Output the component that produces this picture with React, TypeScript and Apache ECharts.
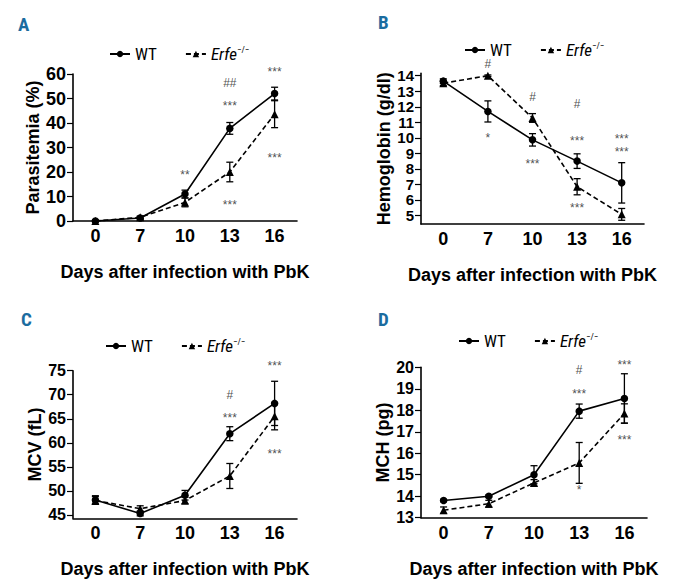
import React, { useEffect, useRef } from "react";
import * as echarts from "echarts";

const days = ["0", "7", "10", "13", "16"];

// Panel A: Parasitemia (%)
const paraWT = [0, 1.2, 11, 37.8, 52];
const paraWTsd = [0.3, 0.5, 1.6, 2.4, 2.6];
const paraKO = [0, 1.5, 7.6, 20, 43.6];
const paraKOsd = [0.3, 0.5, 1.8, 4, 5.5];
const annotA: [string, number, string][] = [
  ["10", 20, "**"], ["13", 56.5, "##"], ["13", 48, "***"], ["13", 7.6, "***"],
  ["16", 62, "***"], ["16", 27, "***"],
];

// Panel B: Hemoglobin (g/dl)
const hbWT = [13.65, 11.7, 9.87, 8.5, 7.1];
const hbWTsd = [0.15, 0.68, 0.4, 0.47, 1.3];
const hbKO = [13.52, 14.0, 11.28, 6.85, 5.07];
const hbKOsd = [0.15, 0.05, 0.28, 0.52, 0.38];
const annotB: [string, number, string][] = [
  ["7", 14.73, "#"], ["7", 10.2, "*"], ["10", 12.6, "#"], ["10", 8.5, "***"],
  ["13", 12.15, "#"], ["13", 10.0, "***"], ["13", 5.7, "***"],
  ["16", 10.1, "***"], ["16", 9.25, "***"],
];

// Panel C: MCV (fL)
const mcvWT = [48.1, 45.3, 49.1, 61.9, 68.2];
const mcvWTsd = [0.9, 0.5, 1.0, 1.45, 4.6];
const mcvKO = [48.0, 46.3, 48.0, 53.1, 65.5];
const mcvKOsd = [0.8, 0.6, 0.7, 2.6, 2.8];
const annotC: [string, number, string][] = [
  ["13", 70, "#"], ["13", 65.8, "***"], ["16", 76.5, "***"], ["16", 58.3, "***"],
];

// Panel D: MCH (pg)
const mchWT = [13.8, 14.0, 15.0, 17.96, 18.55];
const mchWTsd = [0.05, 0.05, 0.42, 0.33, 1.15];
const mchKO = [13.35, 13.65, 14.62, 15.55, 17.85];
const mchKOsd = [0.15, 0.16, 0.15, 0.95, 0.45];
const annotD: [string, number, string][] = [
  ["13", 19.87, "#"], ["13", 18.9, "***"], ["13", 14.43, "*"],
  ["16", 20.26, "***"], ["16", 16.76, "***"],
];

const ticksB = [5, 6, 7, 8, 9, 10, 11, 12, 13, 14];
const ticksC = [45, 50, 55, 60, 65, 70, 75];

const FONT = "'Liberation Sans', Arial, sans-serif";
const NARROW = "'Liberation Sans Narrow', 'Roboto Condensed', Roboto, sans-serif";

function errorSeries(gi: number, mean: number[], sd: number[]) {
  return {
    type: "custom",
    xAxisIndex: gi,
    yAxisIndex: gi,
    clip: false,
    silent: true,
    z: 3,
    encode: { x: 0, y: 1 },
    data: mean.map((m, i) => [i, m, sd[i]]),
    renderItem: (_p: any, api: any) => {
      const x = api.value(0);
      const m = api.value(1);
      const s = api.value(2);
      const t = api.coord([x, m + s]);
      const b = api.coord([x, m - s]);
      const w = 3.5;
      const st = { stroke: "#000", lineWidth: 1.3 };
      return {
        type: "group",
        children: [
          { type: "line", shape: { x1: t[0], y1: t[1], x2: b[0], y2: b[1] }, style: st },
          { type: "line", shape: { x1: t[0] - w, y1: t[1], x2: t[0] + w, y2: t[1] }, style: st },
          { type: "line", shape: { x1: b[0] - w, y1: b[1], x2: b[0] + w, y2: b[1] }, style: st },
        ],
      };
    },
  };
}

function lineSeries(gi: number, name: string, data: number[], dashed: boolean) {
  return {
    type: "line",
    name,
    xAxisIndex: gi,
    yAxisIndex: gi,
    data,
    symbol: dashed ? "triangle" : "circle",
    symbolSize: dashed ? 8 : 7.5,
    z: 4,
    itemStyle: { color: "#000" },
    lineStyle: { color: "#000", width: 1.6, type: dashed ? [5, 3] : "solid" },
    clip: false,
  };
}

function annotSeries(gi: number, ann: [string, number, string][]) {
  return {
    type: "scatter",
    xAxisIndex: gi,
    yAxisIndex: gi,
    symbolSize: 0,
    clip: false,
    silent: true,
    z: 5,
    itemStyle: { color: "#222" },
    data: ann.map((a) => ({
      value: [a[0], a[1]],
      label: {
        show: true,
        position: "inside",
        formatter: a[2],
        fontSize: 12,
        lineHeight: 11,
        color: "#222",
        textBorderWidth: 0,
        fontFamily: FONT,
        offset: a[2].startsWith("*") ? [0, 3] : [0, 0],
      },
    })),
  };
}

function xAxis(gi: number) {
  return {
    type: "category",
    gridIndex: gi,
    data: days,
    boundaryGap: true,
    axisLine: { lineStyle: { color: "#000", width: 1.6 } },
    axisTick: { alignWithLabel: true, length: 4, lineStyle: { color: "#000", width: 1.2 } },
    axisLabel: { color: "#000", fontSize: 18, fontWeight: "bold", fontFamily: FONT, margin: 6 },
    name: "Days after infection with PbK",
    nameLocation: "middle",
    nameGap: 42,
    nameTextStyle: { color: "#000", fontSize: 18, fontWeight: "bold", fontFamily: FONT },
    splitLine: { show: false },
  };
}

function yAxis(
  gi: number, name: string, min: number, max: number, interval: number | null,
  custom: number[] | null, nameGap: number, labelSize: number
) {
  const ax: any = {
    type: "value",
    gridIndex: gi,
    min,
    max,
    name,
    nameLocation: "middle",
    nameGap,
    nameRotate: 90,
    nameTextStyle: { color: "#000", fontSize: 18, fontWeight: "bold", fontFamily: FONT },
    axisLine: { show: true, lineStyle: { color: "#000", width: 1.6 } },
    axisTick: { show: true, length: 6, lineStyle: { color: "#000", width: 1.2 } },
    axisLabel: {
      color: "#000", fontSize: labelSize, fontWeight: "bold", fontFamily: FONT, margin: 7,
      showMinLabel: true, showMaxLabel: true, hideOverlap: false,
    },
    splitLine: { show: false },
  };
  if (interval !== null) ax.interval = interval;
  if (custom) {
    ax.axisTick.customValues = custom;
    ax.axisLabel.customValues = custom;
  }
  return ax;
}

function legend(left: number, top: number) {
  return {
    left,
    top,
    orient: "horizontal",
    data: ["WT", "Erfe"],
    selectedMode: false,
    itemWidth: 20,
    itemHeight: 8,
    itemGap: 28,
    formatter: (n: string) => (n === "Erfe" ? "{i|Erfe}{s|−/−}" : n),
    textStyle: {
      color: "#000",
      fontSize: 17,
      fontFamily: NARROW,
      rich: {
        i: { fontStyle: "italic", fontSize: 17, fontFamily: NARROW, color: "#000" },
        s: { fontSize: 9, fontFamily: NARROW, color: "#000", padding: [0, 0, 9, 0] },
      },
    },
  };
}

const panelLabel = (text: string, x: number, y: number) => ({
  type: "text",
  left: x,
  top: y,
  style: { text, fill: "#1b6c9f", font: `bold 19px ${NARROW}` },
});

export default function App() {
  const ref = useRef<HTMLDivElement>(null);
  useEffect(() => {
    if (!ref.current) return;
    const chart = echarts.init(ref.current, undefined, { renderer: "svg" });
    const option: any = {
      animation: false,
      backgroundColor: "#fff",
      grid: [
        { left: 73, top: 74, width: 224, height: 147 },
        { left: 421, top: 73.4, width: 223, height: 150.6 },
        { left: 73, top: 370.7, width: 224, height: 147.6 },
        { left: 421, top: 367.3, width: 226, height: 150.4 },
      ],
      xAxis: [xAxis(0), xAxis(1), xAxis(2), xAxis(3)],
      yAxis: [
        yAxis(0, "Parasitemia (%)", 0, 60, 10, null, 24, 18),
        yAxis(1, "Hemoglobin (g/dl)", 4.45, 14.15, null, ticksB, 27, 15),
        yAxis(2, "MCV (fL)", 44.3, 75, null, ticksC, 24, 16),
        yAxis(3, "MCH (pg)", 13, 20, 1, null, 25, 16),
      ],
      legend: [legend(104, 40), legend(459, 36), legend(100, 332), legend(453, 327)],
      graphic: [
        panelLabel("A", 18, 15),
        panelLabel("B", 378, 13),
        panelLabel("C", 21, 310),
        panelLabel("D", 378, 310),
      ],
      series: [
        errorSeries(0, paraWT, paraWTsd),
        errorSeries(0, paraKO, paraKOsd),
        lineSeries(0, "WT", paraWT, false),
        lineSeries(0, "Erfe", paraKO, true),
        annotSeries(0, annotA),
        errorSeries(1, hbWT, hbWTsd),
        errorSeries(1, hbKO, hbKOsd),
        lineSeries(1, "WT", hbWT, false),
        lineSeries(1, "Erfe", hbKO, true),
        annotSeries(1, annotB),
        errorSeries(2, mcvWT, mcvWTsd),
        errorSeries(2, mcvKO, mcvKOsd),
        lineSeries(2, "WT", mcvWT, false),
        lineSeries(2, "Erfe", mcvKO, true),
        annotSeries(2, annotC),
        errorSeries(3, mchWT, mchWTsd),
        errorSeries(3, mchKO, mchKOsd),
        lineSeries(3, "WT", mchWT, false),
        lineSeries(3, "Erfe", mchKO, true),
        annotSeries(3, annotD),
      ],
    };
    chart.setOption(option);
    return () => chart.dispose();
  }, []);
  return (
    <div
      ref={ref}
      style={{ position: "absolute", left: 0, top: 0, width: 676, height: 588, background: "#fff" }}
    />
  );
}
